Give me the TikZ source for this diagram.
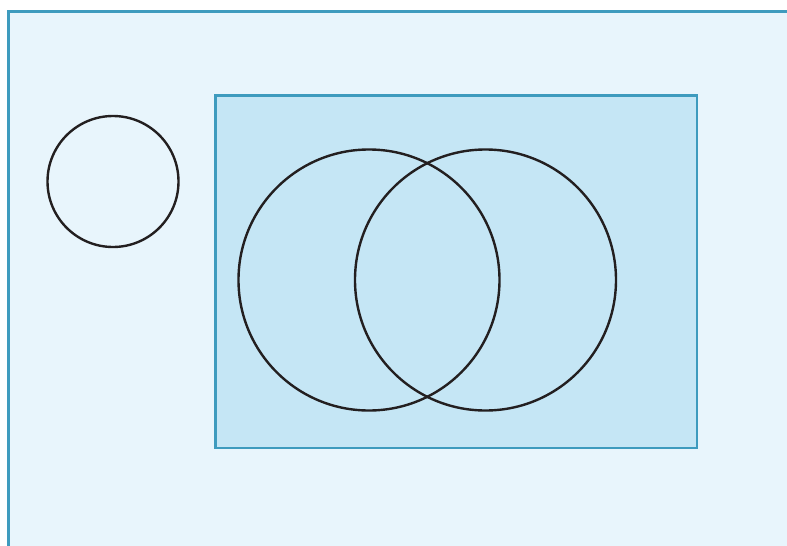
\documentclass[tikz,border=0pt]{standalone}
\definecolor{outerfill}{HTML}{E8F5FC}
\definecolor{innerfill}{HTML}{C5E6F5}
\definecolor{edgeblue}{HTML}{3E9BBE}
\definecolor{ink}{HTML}{231F20}
\begin{document}
\begin{tikzpicture}[x=1pt,y=-1pt,
  frame/.style={draw=edgeblue,line width=2.8pt},
  setcircle/.style={draw=ink,line width=2.4pt}]
\useasboundingbox (0,0) rectangle (787,546);
\clip (0,0) rectangle (787,546);
\fill[white] (0,0) rectangle (787,546);
\draw[frame,fill=outerfill] (8.5,11.5) rectangle (810,570);
\draw[frame,fill=innerfill] (215.5,95.5) rectangle (697,448);
\draw[setcircle] (113,181.5) circle[radius=65.5];
\draw[setcircle] (369,280) circle[radius=130.5];
\draw[setcircle] (485.5,280) circle[radius=130.5];
\end{tikzpicture}
\end{document}
